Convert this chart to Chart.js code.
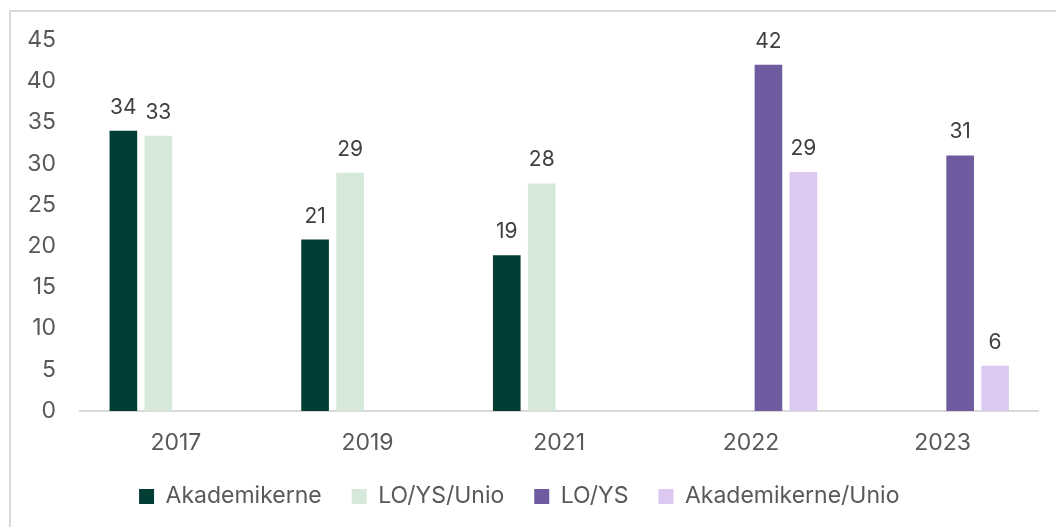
<!DOCTYPE html>
<html>
<head>
<meta charset="utf-8">
<script src="https://cdn.jsdelivr.net/npm/chart.js@4.4.1/dist/chart.umd.min.js"></script>
<style>
    html, body { margin: 0; padding: 0; background: #fff; }
    #wrap { position: relative; width: 1056px; height: 527px; overflow: hidden; }
    #frame {
        position: absolute; left: 9px; top: 10px; width: 1100px; height: 600px;
        border: 2px solid #d9d9d9; box-sizing: border-box;
    }
    #chart { position: absolute; left: 0; top: 0; }
</style>
</head>
<body>
<div id="wrap">
    <div id="frame"></div>
    <canvas id="chart" width="1056" height="527"></canvas>
</div>
<script>
// Data
const years = ['2017', '2019', '2021', '2022', '2023'];
const akademikerne = [34.0, 20.8, 18.9, null, null];
const loYsUnio = [33.4, 28.9, 27.6, null, null];
const loYs = [null, null, null, 42.0, 31.0];
const akademikerneUnio = [null, null, null, 29.0, 5.5];
const yTicks = [0, 5, 10, 15, 20, 25, 30, 35, 40, 45];

const FONT = 'Inter';

// Value labels above each bar
const valueLabels = {
    id: 'valueLabels',
    afterDatasetsDraw(chart) {
        const ctx = chart.ctx;
        ctx.save();
        ctx.font = '21px ' + FONT;
        ctx.fillStyle = '#404040';
        ctx.textAlign = 'center';
        ctx.textBaseline = 'alphabetic';
        chart.data.datasets.forEach((ds, i) => {
            const meta = chart.getDatasetMeta(i);
            meta.data.forEach((bar, j) => {
                const v = ds.data[j];
                if (v === null || v === undefined) return;
                ctx.fillText(Math.round(v), bar.x, bar.y - 17);
            });
        });
        ctx.restore();
    }
};

new Chart(document.getElementById('chart'), {
    type: 'bar',
    data: {
        labels: years,
        datasets: [
            { label: 'Akademikerne', data: akademikerne, backgroundColor: '#023d36' },
            { label: 'LO/YS/Unio', data: loYsUnio, backgroundColor: '#d5e8da' },
            { label: 'LO/YS', data: loYs, backgroundColor: '#6e5ba0' },
            { label: 'Akademikerne/Unio', data: akademikerneUnio, backgroundColor: '#dcc8f0' }
        ]
    },
    options: {
        responsive: false,
        animation: false,
        devicePixelRatio: 1,
        layout: { padding: { left: 0, right: 17.5, top: 40, bottom: 9 } },
        datasets: {
            bar: { categoryPercentage: 0.73, barPercentage: 0.79 }
        },
        plugins: {
            tooltip: { enabled: false },
            legend: {
                position: 'bottom',
                labels: {
                    boxWidth: 15,
                    boxHeight: 15,
                    padding: 30,
                    color: '#595959',
                    font: { family: FONT, size: 23 }
                }
            }
        },
        scales: {
            x: {
                grid: { display: false, drawTicks: false },
                border: { display: true, color: '#d9d9d9', width: 2 },
                ticks: { color: '#595959', padding: 18, font: { family: FONT, size: 23 } },
                afterFit(scale) { scale.height = 44; }
            },
            y: {
                min: 0,
                max: 45,
                afterBuildTicks(scale) { scale.ticks = yTicks.map(v => ({ value: v })); },
                grid: { display: false, drawTicks: false },
                border: { display: false },
                ticks: { color: '#595959', padding: 24, font: { family: FONT, size: 23 } },
                afterFit(scale) { scale.width = 80; }
            }
        }
    },
    plugins: [valueLabels]
});
</script>
</body>
</html>
